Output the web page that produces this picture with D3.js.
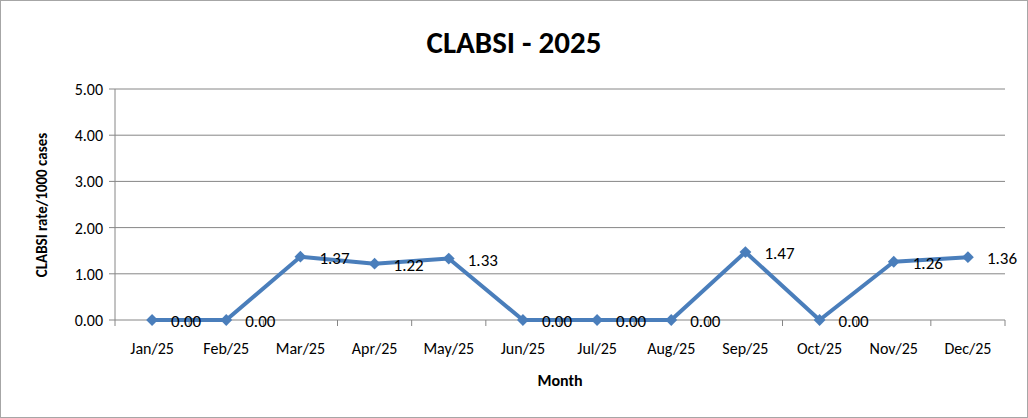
<!DOCTYPE html>
<html><head><meta charset="utf-8">
<script src="https://cdn.jsdelivr.net/npm/d3@7"></script>
<style>body{margin:0;background:#fff}text{font-family:Carlito,"Open Sans","Liberation Sans",Arial,sans-serif}</style>
</head><body><svg id="c" width="1028" height="418"></svg>
<script>
const months=["Jan/25","Feb/25","Mar/25","Apr/25","May/25","Jun/25","Jul/25","Aug/25","Sep/25","Oct/25","Nov/25","Dec/25"];
const rates=[0,0,1.37,1.22,1.33,0,0,0,1.47,0,1.26,1.36];
const yTicks=[0,1,2,3,4,5];
const svg=d3.select("#c");
svg.append("rect").attr("x",0.5).attr("y",0.5).attr("width",1027).attr("height",417).attr("fill","#fff").attr("stroke","#a6a6a6");
const L=115,R=1005,T=89,B=320;
const x=d3.scaleBand().domain(months).range([L,R]);
const y=d3.scaleLinear().domain([0,5]).range([B,T]);
svg.append("text").attr("x",514).attr("y",53).attr("text-anchor","middle").attr("font-size",31).attr("font-weight","bold").text("CLABSI - 2025");
svg.append("g").selectAll("line").data(yTicks).join("line").attr("x1",L-6).attr("x2",R).attr("y1",d=>y(d)).attr("y2",d=>y(d)).attr("stroke","#868686").attr("stroke-width",1);
svg.append("line").attr("x1",L).attr("x2",L).attr("y1",T).attr("y2",B).attr("stroke","#868686");
svg.append("g").selectAll("line").data(d3.range(months.length+1)).join("line").attr("x1",i=>L+i*x.step()).attr("x2",i=>L+i*x.step()).attr("y1",B).attr("y2",B+6).attr("stroke","#868686");
svg.append("g").selectAll("text").data(yTicks).join("text").attr("x",L-12).attr("y",d=>y(d)+6).attr("text-anchor","end").attr("font-size",16).text(d=>d.toFixed(2));
svg.append("g").selectAll("text").data(months).join("text").attr("x",d=>x(d)+x.bandwidth()/2).attr("y",B+34).attr("text-anchor","middle").attr("font-size",16).text(d=>d);
svg.append("text").attr("x",560).attr("y",386).attr("text-anchor","middle").attr("font-size",16).attr("font-weight","bold").text("Month");
svg.append("text").attr("transform","translate(47,205) rotate(-90)").attr("text-anchor","middle").attr("font-size",15).attr("font-weight","bold").text("CLABSI rate/1000 cases");
const cx=(d,i)=>x(months[i])+x.bandwidth()/2;
svg.append("path").datum(rates).attr("d",d3.line().x(cx).y(d=>y(d))).attr("fill","none").attr("stroke","#4a7ebb").attr("stroke-width",4).attr("stroke-linejoin","round");
svg.append("g").selectAll("path").data(rates).join("path").attr("d",d3.symbol(d3.symbolSquare,70)).attr("transform",(d,i)=>`translate(${cx(d,i)},${y(d)}) rotate(45)`).attr("fill","#4a7ebb");
svg.append("g").selectAll("text").data(rates).join("text").attr("x",(d,i)=>cx(d,i)+19).attr("y",d=>y(d)+7).attr("font-size",17).text(d=>d.toFixed(2));
</script></body></html>
